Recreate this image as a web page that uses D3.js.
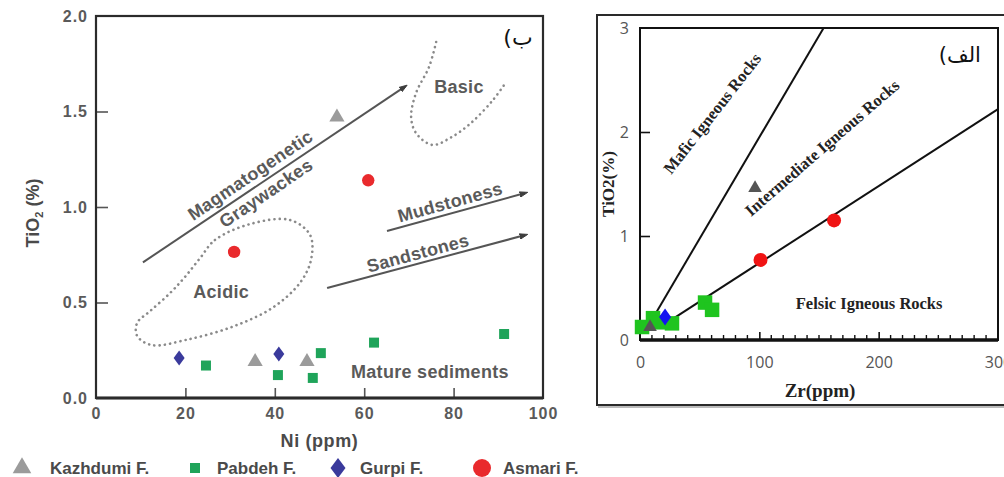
<!DOCTYPE html>
<html>
<head>
<meta charset="utf-8">
<script src="https://cdn.jsdelivr.net/npm/d3@7"></script>
<style>
  html, body { margin: 0; padding: 0; background: #fff; }
  svg { display: block; }
</style>
</head>
<body>
<svg id="fig" width="1004" height="477"></svg>
<script>
// ---------- Left panel: TiO2 vs Ni ----------
const niTicks = [0, 20, 40, 60, 80, 100];
const tiTicksLeft = [0, 0.5, 1.0, 1.5, 2.0];

const niKazhdumi = [53.9, 35.6, 47.2];
const tiKazhdumi = [1.47, 0.19, 0.19];
const niPabdeh = [24.6, 40.7, 48.5, 50.3, 62.2, 91.3];
const tiPabdeh = [0.17, 0.12, 0.105, 0.235, 0.29, 0.335];
const niGurpi = [18.6, 40.9];
const tiGurpi = [0.21, 0.23];
const niAsmari = [30.9, 60.9];
const tiAsmari = [0.765, 1.14];

// field outlines (Ni, TiO2)
const basicField = [[76.1,1.864],[74.5,1.733],[71.6,1.597],[70.5,1.471],[71.6,1.387],[75.2,1.325],[79.2,1.361],[83.9,1.44],[88.8,1.56],[91.3,1.639]];
const acidicField = [[23.3,0.733],[26.6,0.827],[34.5,0.911],[43.4,0.932],[47.9,0.853],[48.1,0.723],[45.6,0.602],[39.4,0.471],[30.4,0.372],[20.1,0.304],[12.5,0.277],[9.2,0.325],[9.2,0.393],[12.1,0.455],[16.6,0.55],[19.9,0.634]];

// trend arrows: [ni0, ti0, ni1, ti1]
const trendArrows = [
  [10.5, 0.71, 69.1, 1.63],
  [65.1, 0.874, 96.0, 1.073],
  [51.7, 0.576, 96.0, 0.853]
];
// labels: text, ni, ti, angle
const leftLabels = [
  ["Magmatogenetic", 34.5, 1.167, -34],
  ["Graywackes", 38.0, 1.073, -34],
  ["Basic", 81.2, 1.628, 0],
  ["Mudstoness", 79.2, 1.026, -15.4],
  ["Sandstones", 72.0, 0.759, -15],
  ["Acidic", 28.0, 0.555, 0],
  ["Mature sediments", 74.7, 0.136, 0]
];

// ---------- Right panel: TiO2 vs Zr ----------
const zrTicks = [0, 100, 200, 300];
const tiTicksRight = [0, 1, 2, 3];

const zrPabdeh = [1.7, 10.9, 16.8, 26.8, 54.5, 60.4];
const tiPabdehR = [0.125, 0.21, 0.17, 0.16, 0.36, 0.29];
const zrKazhdumi = [8.4, 96.4];
const tiKazhdumiR = [0.125, 1.46];
const zrGurpi = [21];
const tiGurpiR = [0.22];
const zrAsmari = [101, 162.6];
const tiAsmariR = [0.77, 1.15];

// TiO2/Zr boundary ratios and the Zr where each line is drawn from
const boundaryRatio = [0.0195, 0.0074];
const boundaryStart = [12, 22];

const rightLabels = [
  ["Mafic Igneous Rocks", 60.4, 2.18, -52],
  ["Intermediate Igneous Rocks", 152.5, 1.85, -41],
  ["Felsic Igneous Rocks", 192, 0.35, 0]
];

// legend
const legendNames = ["Kazhdumi F.", "Pabdeh F.", "Gurpi F.", "Asmari F."];

const colL = { kaz: "#9b9b9b", pab: "#1fa45a", gur: "#3a3a9c", asm: "#e92a2d" };
const colR = { kaz: "#555555", pab: "#1fc41f", gur: "#1414f0", asm: "#f01414" };

const svg = d3.select("#fig");
const sansB = "'Liberation Sans', Arial, sans-serif";
const serif = "'Liberation Serif', 'Times New Roman', serif";

function diamond(w, h) {
  return `M0,${-h/2}L${w/2},0L0,${h/2}L${-w/2},0Z`;
}

// ================= left panel =================
const xL = d3.scaleLinear().domain([0, 100]).range([96, 543]);
const yL = d3.scaleLinear().domain([0, 2]).range([398, 16]);
const gL = svg.append("g");

// dotted fields
const dotted = (g, pts, curve) => g.append("path")
  .attr("d", d3.line().x(d => xL(d[0])).y(d => yL(d[1])).curve(curve)(pts))
  .attr("fill", "none").attr("stroke", "#8a8a8a").attr("stroke-width", 2.6)
  .attr("stroke-linecap", "round").attr("stroke-dasharray", "0.1,5.2");
dotted(gL, basicField, d3.curveCatmullRom);
dotted(gL, acidicField, d3.curveCatmullRomClosed);

// arrows
svg.append("defs").append("marker")
  .attr("id", "head").attr("viewBox", "0 -4 10 8")
  .attr("refX", 6).attr("refY", 0)
  .attr("markerWidth", 4.5).attr("markerHeight", 4).attr("markerUnits", "strokeWidth")
  .attr("orient", "auto")
  .append("path").attr("d", "M0,-3L9,0L0,3Z").attr("fill", "#3d3d3d")
  .attr("stroke", "#3d3d3d").attr("stroke-linejoin", "round");

gL.selectAll("line.arrow").data(trendArrows).join("line")
  .attr("class", "arrow")
  .attr("x1", d => xL(d[0])).attr("y1", d => yL(d[1]))
  .attr("x2", d => xL(d[2])).attr("y2", d => yL(d[3]))
  .attr("stroke", "#555").attr("stroke-width", 2)
  .attr("marker-end", "url(#head)");

gL.selectAll("text.note").data(leftLabels).join("text")
  .attr("class", "note")
  .attr("transform", d => `translate(${xL(d[1])},${yL(d[2])}) rotate(${d[3]})`)
  .attr("text-anchor", "middle").attr("dy", "0.35em")
  .attr("font-family", sansB).attr("font-weight", "bold").attr("font-size", 18)
  .attr("letter-spacing", 0.3)
  .attr("fill", "#5a5a5a")
  .text(d => d[0]);

// axes
const axL = gL.append("g").attr("transform", `translate(${xL(0)},0)`)
  .call(d3.axisLeft(yL).tickValues(tiTicksLeft).tickFormat(d3.format(".1f"))
    .tickSizeInner(-12).tickSizeOuter(0).tickPadding(8));
const axB = gL.append("g").attr("transform", `translate(0,${yL(0)})`)
  .call(d3.axisBottom(xL).tickValues(niTicks).tickFormat(d3.format("d"))
    .tickSizeInner(-10).tickSizeOuter(0).tickPadding(10));
[axL, axB].forEach(a => {
  a.select(".domain").remove();
  a.selectAll(".tick line").attr("stroke", "#555").attr("stroke-width", 1.6)
    .filter(d => d === 0 || d === 2 || d === 100).remove();
  a.selectAll("text").attr("font-family", sansB).attr("font-weight", "bold")
    .attr("font-size", 16).attr("letter-spacing", 1).attr("fill", "#5a5a5a");
});

// frame
gL.append("rect").attr("x", xL(0)).attr("y", yL(2))
  .attr("width", xL(100) - xL(0)).attr("height", yL(0) - yL(2))
  .attr("fill", "none").attr("stroke", "#2b2b2b").attr("stroke-width", 2.2);
gL.append("line").attr("x1", xL(0)).attr("x2", xL(100)).attr("y1", yL(0)).attr("y2", yL(0))
  .attr("stroke", "#2b2b2b").attr("stroke-width", 3);

// axis titles
gL.append("text").attr("x", xL(50)).attr("y", 441).attr("text-anchor", "middle").attr("dy", "0.35em")
  .attr("font-family", sansB).attr("font-weight", "bold").attr("font-size", 18).attr("letter-spacing", 0.6)
  .attr("fill", "#4a4a4a")
  .text("Ni (ppm)");
const yTitle = gL.append("text").attr("transform", `translate(33,${yL(1.0) + 6}) rotate(-90)`)
  .attr("text-anchor", "middle").attr("dy", "0.35em")
  .attr("font-family", sansB).attr("font-weight", "bold").attr("font-size", 18).attr("fill", "#4a4a4a");
yTitle.append("tspan").text("TiO");
yTitle.append("tspan").attr("font-size", 11).attr("dy", "0.35em").text("2");
yTitle.append("tspan").attr("dy", "-0.25em").text(" (%)");

gL.append("text").attr("x", xL(94.4)).attr("y", yL(1.89)).attr("text-anchor", "middle").attr("dy", "0.35em")
  .attr("font-family", "'DejaVu Sans', sans-serif").attr("font-size", 22).attr("fill", "#111")
  .attr("direction", "rtl").text("ب)");

// points
const zipL = (a, b) => a.map((v, i) => [v, b[i]]);
gL.selectAll("path.pab").data(zipL(niPabdeh, tiPabdeh)).join("path").attr("class", "pab")
  .attr("d", d3.symbol(d3.symbolSquare, 100)())
  .attr("transform", d => `translate(${xL(d[0])},${yL(d[1])})`).attr("fill", colL.pab);
gL.selectAll("path.kaz").data(zipL(niKazhdumi, tiKazhdumi)).join("path").attr("class", "kaz")
  .attr("d", d3.symbol(d3.symbolTriangle, 100)())
  .attr("transform", d => `translate(${xL(d[0])},${yL(d[1])})`).attr("fill", colL.kaz);
gL.selectAll("path.gur").data(zipL(niGurpi, tiGurpi)).join("path").attr("class", "gur")
  .attr("d", diamond(11, 15))
  .attr("transform", d => `translate(${xL(d[0])},${yL(d[1])})`).attr("fill", colL.gur);
gL.selectAll("circle.asm").data(zipL(niAsmari, tiAsmari)).join("circle").attr("class", "asm")
  .attr("cx", d => xL(d[0])).attr("cy", d => yL(d[1])).attr("r", 6.2).attr("fill", colL.asm);

// legend
const legX = [22, 195, 338, 482];
const legTextX = [50, 217, 360, 503];
const legY = 468;
const gLeg = svg.append("g");
legendNames.forEach((name, i) => {
  const t = `translate(${legX[i]},${legY})`;
  if (i === 0) gLeg.append("path").attr("d", d3.symbol(d3.symbolTriangle, 150)()).attr("transform", t).attr("fill", colL.kaz);
  if (i === 1) gLeg.append("path").attr("d", d3.symbol(d3.symbolSquare, 100)()).attr("transform", t).attr("fill", colL.pab);
  if (i === 2) gLeg.append("path").attr("d", diamond(15, 20)).attr("transform", t).attr("fill", colL.gur);
  if (i === 3) gLeg.append("circle").attr("cx", legX[i]).attr("cy", legY).attr("r", 9).attr("fill", colL.asm);
  gLeg.append("text").attr("x", legTextX[i]).attr("y", legY).attr("dy", "0.35em")
    .attr("font-family", sansB).attr("font-weight", "bold").attr("font-size", 17).attr("fill", "#4a4a4a")
    .text(name);
});

// ================= right panel =================
const xR = d3.scaleLinear().domain([0, 300]).range([640, 998]);
const yR = d3.scaleLinear().domain([0, 3]).range([340, 28]);
const gR = svg.append("g");

// outer box with a soft shadow
gR.append("rect").attr("x", 599).attr("y", 17).attr("width", 420).attr("height", 390)
  .attr("fill", "none").attr("stroke", "#bbb").attr("stroke-width", 2);
gR.append("rect").attr("x", 597).attr("y", 15).attr("width", 420).attr("height", 390)
  .attr("fill", "#fff").attr("stroke", "#2a2a2a").attr("stroke-width", 2);

// boundary lines
boundaryRatio.forEach((r, i) => {
  const zEnd = Math.min(300, 3 / r);
  gR.append("line")
    .attr("x1", xR(boundaryStart[i])).attr("y1", yR(boundaryStart[i] * r))
    .attr("x2", xR(zEnd)).attr("y2", yR(zEnd * r))
    .attr("stroke", "#111").attr("stroke-width", 2);
});

gR.selectAll("text.note").data(rightLabels).join("text").attr("class", "note")
  .attr("transform", d => `translate(${xR(d[1])},${yR(d[2])}) rotate(${d[3]})`)
  .attr("text-anchor", "middle").attr("dy", "0.35em")
  .attr("font-family", serif).attr("font-weight", "bold").attr("font-size", 16.5).attr("fill", "#222")
  .text(d => d[0]);

// axes
const axRL = gR.append("g").attr("transform", `translate(${xR(0)},0)`)
  .call(d3.axisLeft(yR).tickValues(tiTicksRight).tickFormat(d3.format("d"))
    .tickSizeInner(-10).tickSizeOuter(0).tickPadding(11));
const axRB = gR.append("g").attr("transform", `translate(0,${yR(0)})`)
  .call(d3.axisBottom(xR).tickValues(zrTicks).tickFormat(d3.format("d"))
    .tickSizeInner(-8).tickSizeOuter(0).tickPadding(17));
const minorZr = d3.range(10, 300, 10).filter(v => v % 100 !== 0);
gR.selectAll("line.minor").data(minorZr).join("line").attr("class", "minor")
  .attr("x1", d => xR(d)).attr("x2", d => xR(d)).attr("y1", yR(0)).attr("y2", yR(0) - 5)
  .attr("stroke", "#111").attr("stroke-width", 1.4);
[axRL, axRB].forEach(a => {
  a.select(".domain").remove();
  a.selectAll(".tick line").attr("stroke", "#111").attr("stroke-width", 1.6)
    .filter(d => d === 0 || d === 3 || d === 300).remove();
  a.selectAll("text").attr("font-family", "'Open Sans', 'Noto Sans', sans-serif")
    .attr("font-size", 16).attr("fill", "#555");
});

gR.append("rect").attr("x", xR(0)).attr("y", yR(3))
  .attr("width", xR(300) - xR(0)).attr("height", yR(0) - yR(3))
  .attr("fill", "none").attr("stroke", "#111").attr("stroke-width", 2);
gR.append("line").attr("x1", xR(0)).attr("x2", xR(300)).attr("y1", yR(0)).attr("y2", yR(0))
  .attr("stroke", "#111").attr("stroke-width", 3.5);

gR.append("text").attr("x", 820).attr("y", 390).attr("text-anchor", "middle").attr("dy", "0.35em")
  .attr("font-family", serif).attr("font-weight", "bold").attr("font-size", 19).attr("fill", "#222")
  .text("Zr(ppm)");
gR.append("text").attr("transform", `translate(608,${yR(1.5)}) rotate(-90)`)
  .attr("text-anchor", "middle").attr("dy", "0.35em")
  .attr("font-family", serif).attr("font-weight", "bold").attr("font-size", 17).attr("fill", "#222")
  .text("TiO2(%)");
gR.append("text").attr("x", xR(268)).attr("y", yR(2.74)).attr("text-anchor", "middle").attr("dy", "0.35em")
  .attr("font-family", "'DejaVu Sans', sans-serif").attr("font-size", 21).attr("fill", "#111")
  .attr("direction", "rtl").text("الف)");

// points
gR.selectAll("path.pab").data(zipL(zrPabdeh, tiPabdehR)).join("path").attr("class", "pab")
  .attr("d", d3.symbol(d3.symbolSquare, 210)())
  .attr("transform", d => `translate(${xR(d[0])},${yR(d[1])})`).attr("fill", colR.pab);
gR.selectAll("path.kaz").data(zipL(zrKazhdumi, tiKazhdumiR)).join("path").attr("class", "kaz")
  .attr("d", d3.symbol(d3.symbolTriangle, 80)())
  .attr("transform", d => `translate(${xR(d[0])},${yR(d[1])})`).attr("fill", colR.kaz);
gR.selectAll("path.gur").data(zipL(zrGurpi, tiGurpiR)).join("path").attr("class", "gur")
  .attr("d", diamond(12, 17))
  .attr("transform", d => `translate(${xR(d[0])},${yR(d[1])})`).attr("fill", colR.gur);
gR.selectAll("circle.asm").data(zipL(zrAsmari, tiAsmariR)).join("circle").attr("class", "asm")
  .attr("cx", d => xR(d[0])).attr("cy", d => yR(d[1])).attr("r", 7).attr("fill", colR.asm);
</script>
</body>
</html>
